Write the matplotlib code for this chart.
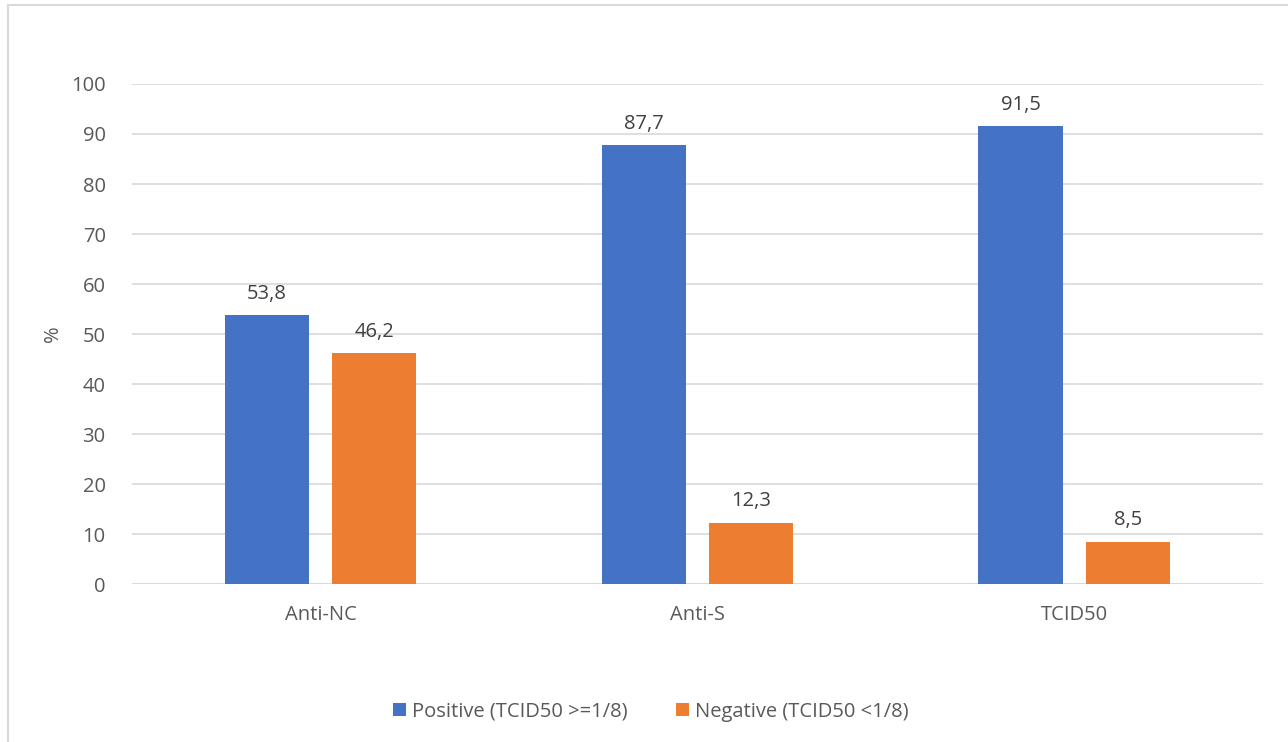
import matplotlib
matplotlib.use("Agg")
import matplotlib.pyplot as plt
import numpy as np

categories = ["Anti-NC", "Anti-S", "TCID50"]
positive = [53.8, 87.7, 91.5]
negative = [46.2, 12.3, 8.5]
series_names = ["Positive (TCID50 >=1/8)", "Negative (TCID50 <1/8)"]

plt.rcParams["font.family"] = ["Open Sans", "DejaVu Sans"]
text_color = "#595959"
fs = 14.5

fig = plt.figure(figsize=(12.88, 7.42), dpi=100)
ax = fig.add_axes([0.1025, 0.2129, 0.878, 0.6739])

x = np.arange(len(categories))
width = 0.225
off = 0.142
b1 = ax.bar(x - off, positive, width, color="#4472C4", label=series_names[0], zorder=3)
b2 = ax.bar(x + off, negative, width, color="#ED7D31", label=series_names[1], zorder=3)

for bars, vals in [(b1, positive), (b2, negative)]:
    for rect, v in zip(bars, vals):
        ax.annotate(f"{v:.1f}".replace(".", ","),
                    (rect.get_x() + rect.get_width() / 2, v),
                    xytext=(0, 8), textcoords="offset points",
                    ha="center", va="bottom", fontsize=fs, color="#404040")

ax.set_xlim(-0.5, 2.5)
ax.set_ylim(0, 100)
ax.set_yticks(range(0, 101, 10))
ax.set_xticks(x)
ax.set_xticklabels(categories)
ax.tick_params(axis="both", length=0, labelsize=fs, colors=text_color)
ax.tick_params(axis="y", pad=19)
ax.tick_params(axis="x", pad=15)
ax.grid(axis="y", color="#d9d9d9", linewidth=1.2, zorder=0)
for s in ax.spines.values():
    s.set_visible(False)
ax.axhline(0, color="#d9d9d9", linewidth=1.2, zorder=1)

ax.set_ylabel("%", fontsize=fs, color=text_color, labelpad=6)

fig.legend(handles=[b1, b2], loc="center", bbox_to_anchor=(0.505, 0.041),
           ncol=2, frameon=False, fontsize=fs, labelcolor=text_color,
           handlelength=0.65, handleheight=0.65, handletextpad=0.3,
           columnspacing=2.4)

# chart border (top and left edges visible in the crop)
fig.add_artist(plt.Line2D([0.0062, 1.0], [0.9933, 0.9933], transform=fig.transFigure,
                          color="#d9d9d9", linewidth=1.5))
fig.add_artist(plt.Line2D([0.0062, 0.0062], [0.0, 0.9933], transform=fig.transFigure,
                          color="#d9d9d9", linewidth=1.5))

fig.savefig("out.png", dpi=100)
